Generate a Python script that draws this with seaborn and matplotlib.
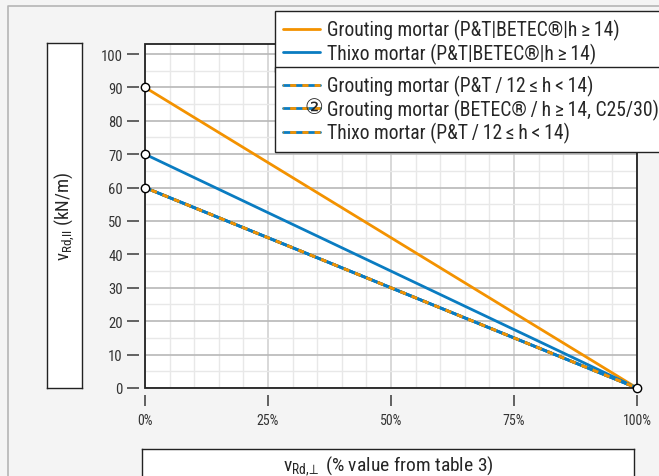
import numpy as np
import pandas as pd
import matplotlib
matplotlib.use("Agg")
import matplotlib.pyplot as plt
from matplotlib.ticker import MultipleLocator, FuncFormatter
from matplotlib.patches import Rectangle
from matplotlib.lines import Line2D
import seaborn as sns

# data
x_pct = [0, 100]
grout_full = [90, 0]       # Grouting mortar (P&T|BETEC|h>=14)
thixo_full = [70, 0]       # Thixo mortar (P&T|BETEC|h>=14)
grout_pt_12 = [60, 0]      # Grouting mortar (P&T / 12<=h<14)
grout_betec_c25 = [60, 0]  # Grouting mortar (BETEC / h>=14, C25/30)
thixo_pt_12 = [60, 0]      # Thixo mortar (P&T / 12<=h<14)

labels_top = ["Grouting mortar (P&T|BETEC®|h\u2009≥\u200914)",
              "Thixo mortar (P&T|BETEC®|h\u2009≥\u200914)"]
labels_bottom = ["Grouting mortar (P&T\u2009/\u200912\u2009≤\u2009h\u2009<\u200914)",
                 "Grouting mortar (BETEC®\u2009/\u2009h\u2009≥\u200914, C25/30)",
                 "Thixo mortar (P&T\u2009/\u200912\u2009≤\u2009h\u2009<\u200914)"]
x_ticks = [0, 25, 50, 75, 100]
y_ticks = list(range(0, 101, 10))

ORANGE = "#f39200"
BLUE = "#0a7cc1"
BG = "#f4f4f4"

sns.set_style("white")
plt.rcParams["font.family"] = ["Roboto Condensed", "Roboto", "DejaVu Sans"]
plt.rcParams["mathtext.fontset"] = "custom"
plt.rcParams["mathtext.rm"] = "Roboto Condensed"
plt.rcParams["mathtext.it"] = "Roboto Condensed"

fig = plt.figure(figsize=(6.59, 4.77), dpi=100, facecolor=BG)
ax = fig.add_axes([0.2200, 0.1845, 0.7466, 0.7212])
ax.set_facecolor("white")

# lines
sns.lineplot(x=x_pct, y=grout_full, color=ORANGE, lw=2, ax=ax)
l_or = ax.lines[-1]
sns.lineplot(x=x_pct, y=thixo_full, color=BLUE, lw=2, ax=ax)
l_bl = ax.lines[-1]
dashed = []
for ys in [grout_pt_12, grout_betec_c25, thixo_pt_12]:
    sns.lineplot(x=x_pct, y=ys, color=BLUE, lw=2, ax=ax)
    base = ax.lines[-1]
    sns.lineplot(x=x_pct, y=ys, color=ORANGE, lw=2, linestyle=(2, (2.2, 2.2)), ax=ax)
    dashed.append((base, ax.lines[-1]))

# end point markers
pts = pd.DataFrame({
    "x": [x_pct[0]] * 3 + [x_pct[-1]],
    "y": [grout_full[0], thixo_full[0], grout_pt_12[0], grout_full[-1]],
})
sns.scatterplot(data=pts, x="x", y="y", s=36, color="white", edgecolor="black",
                linewidth=1, zorder=10, clip_on=False, ax=ax)

ax.set_xlim(0, 100)
ax.set_ylim(0, 103)
ax.set_xticks(x_ticks)
ax.set_yticks(y_ticks)
ax.xaxis.set_minor_locator(MultipleLocator(5))
ax.yaxis.set_minor_locator(MultipleLocator(5))
ax.xaxis.set_major_formatter(FuncFormatter(lambda v, p: f"{v:.0f}%"))
ax.set_xlabel("")
ax.set_ylabel("")
ax.grid(which="minor", color="#e8e8e8", lw=1)
ax.grid(which="major", axis="x", color="#d2d2d2", lw=1.2)
ax.grid(which="major", axis="y", color="#b8b8b8", lw=1.2)
ax.set_axisbelow(True)

# ticks detached from the frame
ax.spines["left"].set_position(("outward", 4))
ax.spines["bottom"].set_position(("outward", 5))
for side in ["left", "bottom", "top", "right"]:
    ax.spines[side].set_visible(False)
ax.tick_params(which="major", bottom=True, left=True, direction="out", length=9,
               width=1.3, color="#555555", labelsize=10.5, labelcolor="#333333", pad=3)
ax.tick_params(which="minor", bottom=False, left=False, length=0)
ax.tick_params(axis="x", length=8, pad=5, labelsize=10)
ax.add_patch(Rectangle((0, 0), 1, 1, transform=ax.transAxes, fill=False,
                       edgecolor="#222222", lw=1.3, clip_on=False, zorder=5))

# y label box
ybox = fig.add_axes([0.0713, 0.1845, 0.0531, 0.7233])
ybox.set_facecolor("white")
ybox.set_xticks([])
ybox.set_yticks([])
for s in ybox.spines.values():
    s.set_color("#222222")
    s.set_linewidth(1)
ybox.text(0.5, 0.5, r"$\mathrm{v}_{\mathrm{Rd{,}II}}$ (kN/m)", rotation=90,
          ha="center", va="center", fontsize=13.5, transform=ybox.transAxes)

# x label box
xbox = fig.add_axes([0.2155, -0.06, 0.7466, 0.1166])
xbox.set_facecolor("white")
xbox.set_xticks([])
xbox.set_yticks([])
for s in xbox.spines.values():
    s.set_color("#222222")
    s.set_linewidth(1)
fig.text(0.5892, 0.022, r"$\mathrm{v}_{\mathrm{Rd{,}\!\perp}}$ (% value from table 3)",
         ha="center", va="center", fontsize=14)

# outer frame lines
fig.add_artist(Line2D([8 / 659, 8 / 659, 1], [0, 1 - 7 / 477, 1 - 7 / 477],
                      transform=fig.transFigure, color="#b5b5b5", lw=1.2))

# legends
leg_kw = dict(loc="upper left", mode="expand", fontsize=14.1, frameon=True,
              fancybox=False, framealpha=1, edgecolor="#222222", handlelength=1.88,
              handletextpad=0.36, borderaxespad=0, borderpad=0.43, labelspacing=0.12)
leg1 = fig.legend(handles=[l_or, l_bl], labels=labels_top,
                  bbox_to_anchor=(275 / 659, 0.3, 0.7, 1 - 12 / 477 - 0.3), **leg_kw)
leg1.get_frame().set_linewidth(1)
leg2 = fig.legend(handles=dashed, labels=labels_bottom,
                  bbox_to_anchor=(275 / 659, 0.3, 0.7, 1 - 68 / 477 - 0.3), **leg_kw)
leg2.get_frame().set_linewidth(1)

fig.text(314 / 659, 1 - 108 / 477, "②", ha="center", va="center", fontsize=15,
         family=["DejaVu Sans", "Noto Sans CJK JP"], zorder=10)

fig.savefig("out.png", dpi=100, facecolor=BG)
